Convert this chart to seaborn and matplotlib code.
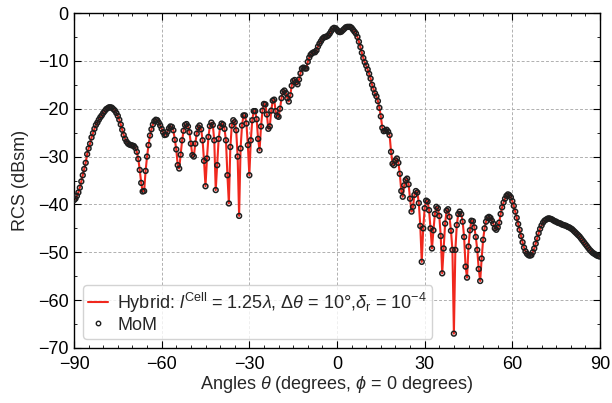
import numpy as np
import pandas as pd
import matplotlib
matplotlib.use("Agg")
import matplotlib.pyplot as plt
from matplotlib.lines import Line2D
from matplotlib.ticker import MultipleLocator
import seaborn as sns

# Observation angles (degrees), 0.5 degree sampling
theta = np.arange(-90.0, 90.5, 0.5)

# Monostatic RCS (dBsm), one row per 5 degrees
rcs_neg = [
    -39.1, -38.8, -38.2, -37.5, -36.5, -35.2, -33.9, -32.6, -31.3, -29.5,   # -90
    -28.3, -27.3, -26.0, -25.1, -24.2, -23.4, -22.9, -22.3, -21.8, -21.4,   # -85
    -20.9, -20.5, -20.1, -19.9, -19.7, -19.7, -19.8, -20.1, -20.4, -20.9,   # -80
    -21.5, -22.3, -23.3, -24.4, -25.5, -26.3, -26.9, -27.3, -27.5, -27.6,   # -75
    -27.7, -27.8, -28.2, -29.0, -30.5, -32.8, -35.5, -37.3, -37.2, -33.0,   # -70
    -30.0, -27.6, -25.6, -24.3, -23.3, -22.6, -22.3, -22.4, -22.9, -23.5,   # -65
    -24.2, -24.9, -25.5, -25.4, -24.8, -24.1, -23.7, -23.8, -24.5, -26.5,   # -60
    -28.5, -31.8, -32.5, -29.6, -26.6, -24.6, -23.4, -23.2, -23.7, -24.9,   # -55
    -27.3, -29.7, -30.0, -27.3, -25.2, -23.9, -23.5, -24.3, -26.6, -30.9,   # -50
    -36.2, -30.4, -25.9, -23.6, -22.9, -23.4, -26.6, -37.0, -31.8, -26.3,   # -45
    -23.8, -23.1, -23.3, -24.2, -26.6, -33.9, -39.8, -28.0, -23.5, -22.4,   # -40
    -22.8, -24.5, -30.0, -42.4, -28.3, -23.5, -21.4, -21.4, -23.1, -27.6,   # -35
    -33.9, -26.6, -22.4, -20.5, -20.5, -22.2, -26.3, -28.7, -23.7, -20.4,   # -30
    -19.0, -19.1, -21.2, -24.2, -23.7, -20.4, -18.3, -18.1, -20.5, -21.5,   # -25
    -21.7, -20.0, -17.8, -16.5, -16.2, -16.7, -17.8, -18.5, -17.2, -15.2,   # -20
    -14.2, -14.0, -14.5, -14.9, -13.9, -12.6, -11.6, -11.4, -11.6, -11.6,   # -15
    -10.2, -9.3, -8.7, -8.4, -8.2, -8.2, -7.8, -7.0, -6.4, -5.9,            # -10
    -5.4, -5.1, -5.0, -4.9, -4.7, -4.3, -3.8, -3.3, -3.1, -3.2,             # -5
]
rcs_pos = [
    -3.5, -3.9, -4.0, -3.9, -3.6, -3.3, -3.0, -2.9, -2.9, -2.9,             # 0
    -3.1, -3.5, -3.9, -4.3, -5.0, -6.0, -7.1, -8.3, -9.4, -10.3,            # 5
    -11.0, -11.8, -12.7, -13.7, -15.0, -15.9, -16.8, -17.4, -18.4, -19.8,   # 10
    -21.6, -24.0, -24.7, -24.6, -24.4, -24.8, -25.5, -29.0, -31.5, -31.8,   # 15
    -30.8, -30.4, -31.3, -33.6, -37.2, -38.4, -36.0, -34.9, -34.6, -35.8,   # 20
    -38.8, -41.5, -40.5, -38.0, -37.2, -37.5, -39.7, -44.5, -52.0, -45.0,   # 25
    -40.8, -39.2, -39.4, -41.2, -45.0, -49.2, -45.4, -42.0, -40.5, -40.8,   # 30
    -42.4, -46.6, -54.4, -49.2, -44.0, -41.3, -41.0, -42.6, -45.5, -49.5,   # 35
    -67.0, -49.5, -44.3, -42.0, -41.5, -42.0, -43.6, -46.8, -53.0, -55.3,   # 40
    -48.8, -45.4, -43.4, -43.5, -44.8, -46.8, -49.5, -53.5, -56.0, -51.3,   # 45
    -47.4, -45.0, -43.6, -42.8, -42.6, -42.8, -43.4, -44.0, -45.0, -45.3,   # 50
    -44.8, -43.8, -42.0, -40.6, -39.6, -38.8, -38.2, -37.9, -38.1, -38.5,   # 55
    -39.3, -40.3, -41.5, -42.8, -44.1, -45.3, -46.6, -47.9, -49.0, -49.8,   # 60
    -50.3, -50.6, -50.7, -50.6, -50.0, -49.2, -48.2, -47.1, -46.0, -45.1,   # 65
    -44.4, -43.8, -43.4, -43.2, -43.0, -42.9, -43.0, -43.1, -43.3, -43.5,   # 70
    -43.6, -43.8, -43.9, -44.0, -44.2, -44.3, -44.4, -44.5, -44.7, -44.8,   # 75
    -45.0, -45.2, -45.5, -45.8, -46.1, -46.4, -46.7, -47.1, -47.5, -47.9,   # 80
    -48.3, -48.7, -49.1, -49.5, -49.8, -50.1, -50.3, -50.5, -50.7, -50.8,   # 85
    -50.9,                                                                  # 90
]
rcs_mom = np.array(rcs_neg + rcs_pos)
rcs_hybrid = rcs_mom.copy()

x_ticks = [-90, -60, -30, 0, 30, 60, 90]
y_ticks = [-70, -60, -50, -40, -30, -20, -10, 0]

df = pd.DataFrame({"theta": theta, "hybrid": rcs_hybrid, "mom": rcs_mom})

sns.set_theme(style="ticks")
plt.rcParams["font.family"] = ["Liberation Sans", "DejaVu Sans"]
plt.rcParams["mathtext.fontset"] = "custom"
plt.rcParams["mathtext.rm"] = "Liberation Sans"
plt.rcParams["mathtext.it"] = "Liberation Sans:italic"
plt.rcParams["mathtext.bf"] = "Liberation Sans:bold"

fig = plt.figure(figsize=(6.12, 4.03), dpi=100)
ax = fig.add_axes([74 / 612, 1 - 348 / 403, 526 / 612, 335 / 403])

sns.lineplot(data=df, x="theta", y="hybrid", ax=ax, color="#f0281e",
             linewidth=1.5, zorder=2)
ax.scatter(df["theta"], df["mom"], s=12, facecolors="none",
           edgecolors="#1e1e1e", linewidths=1.1, zorder=3)

ax.set_xlim(-90, 90)
ax.set_ylim(-70, 0)
ax.set_xticks(x_ticks)
ax.set_yticks(y_ticks)
ax.xaxis.set_minor_locator(MultipleLocator(5))
ax.yaxis.set_minor_locator(MultipleLocator(5))
ax.tick_params(which="both", direction="in", top=True, right=True,
               labelsize=13, colors="black")
ax.tick_params(which="major", length=5, width=0.8)
ax.tick_params(axis="x", which="major", pad=5.5)
ax.tick_params(axis="y", which="major", pad=4)
ax.tick_params(which="minor", length=2.5, width=0.6)
ax.grid(True, which="major", linestyle=(0, (3, 2)), color="#b0b0b0",
        linewidth=0.7)
for sp in ax.spines.values():
    sp.set_color("black")
    sp.set_linewidth(1.0)

ax.set_xlabel(r"Angles $\theta$ (degrees, $\phi$ = 0 degrees)", fontsize=13,
              labelpad=1)
ax.set_ylabel("RCS (dBsm)", fontsize=13, labelpad=6)

handles = [
    Line2D([], [], color="#f0281e", linewidth=1.5),
    Line2D([], [], linestyle="none", marker="o", markersize=3.2,
           markerfacecolor="none", markeredgecolor="#1e1e1e",
           markeredgewidth=1.0),
]
labels = [
    r"Hybrid: $l^{\mathrm{Cell}}$ = 1.25$\lambda$, $\Delta\theta$ = 10°,$\delta_{\mathrm{r}}$ = 10$^{-4}$",
    "MoM",
]
leg = ax.legend(handles, labels, loc="lower left", fontsize=13, frameon=True,
                fancybox=True, borderaxespad=0.5, handlelength=1.1,
                handletextpad=0.5, labelspacing=0.1, borderpad=0.3)
leg.get_frame().set_edgecolor("#c8c8c8")
leg.get_frame().set_linewidth(1.0)

fig.savefig("out.png", dpi=100)
